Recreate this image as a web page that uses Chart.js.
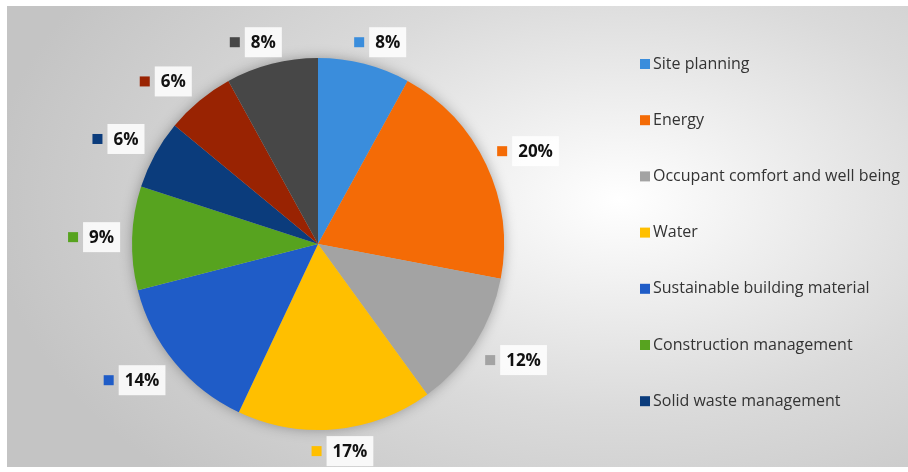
<!DOCTYPE html>
<html><head><meta charset="utf-8">
<script src="https://cdn.jsdelivr.net/npm/chart.js@4/dist/chart.umd.min.js"></script>
<style>
html,body{margin:0;padding:0;background:#fff;}
#wrap{position:absolute;left:7px;top:6px;width:901px;height:461px;
background:radial-gradient(ellipse 70% 85% at 68% 42%, #ffffff 0%, #f3f3f3 18%, #dadada 55%, #c4c4c4 100%);}
#c{position:absolute;left:0;top:0;}
</style></head>
<body>
<div id="wrap"></div>
<canvas id="c" width="908" height="472"></canvas>
<script>
const categories = ["Site planning","Energy","Occupant comfort and well being","Water","Sustainable building material","Construction management","Solid waste management","Innovation","Other"];
const shares = [8,20,12,17,14,9,6,6,8];
const colors = ["#3a8ddc","#f46b06","#a3a3a3","#ffbf00","#1f5cc7","#57a31f","#0b3c7c","#992302","#474747"];
const legendShown = 7;

const shadowPlugin = {
  id:'pieShadow',
  beforeDatasetsDraw(chart){
    const a = chart.getDatasetMeta(0).data[0]; if(!a) return;
    const ctx = chart.ctx; ctx.save();
    ctx.shadowColor='rgba(0,0,0,0.35)'; ctx.shadowBlur=14;
    ctx.fillStyle='#bbbbbb';
    ctx.beginPath(); ctx.arc(a.x,a.y,a.outerRadius-1,0,Math.PI*2); ctx.fill();
    ctx.restore();
  }
};

const labelPlugin = {
  id:'pctLabels',
  afterDatasetsDraw(chart){
    const ctx = chart.ctx; const meta = chart.getDatasetMeta(0);
    const ds = chart.data.datasets[0];
    ctx.save();
    ctx.font = 'bold 17px "Open Sans", sans-serif';
    ctx.textBaseline='middle'; ctx.textAlign='left';
    const f = v => Math.max(-1, Math.min(1, 2*v));
    meta.data.forEach((arc,i)=>{
      const mid = (arc.startAngle+arc.endAngle)/2;
      const r = arc.outerRadius + 12;
      const txt = ds.data[i] + '%';
      const tw = ctx.measureText(txt).width;
      const sq = 10, gap = 5, padX = 6;
      const boxW = tw + 2*padX, boxH = 30;
      const gw = sq + gap + boxW;
      const hw = gw/2, hh = 10;
      const cx = arc.x + r*Math.cos(mid) + hw*f(Math.cos(mid));
      const cy = arc.y + r*Math.sin(mid) + hh*f(Math.sin(mid));
      const left = cx - hw;
      ctx.fillStyle = ds.backgroundColor[i];
      ctx.fillRect(left, cy - sq/2, sq, sq);
      ctx.fillStyle = 'rgba(255,255,255,0.85)';
      ctx.fillRect(left + sq + gap, cy - boxH/2, boxW, boxH);
      ctx.fillStyle = '#111';
      ctx.fillText(txt, left + sq + gap + padX, cy + 1);
    });
    ctx.restore();
  }
};

const legendPlugin = {
  id:'sideLegend',
  afterDraw(chart){
    const ctx = chart.ctx; const ds = chart.data.datasets[0];
    ctx.save();
    ctx.font = '16px "Open Sans", sans-serif';
    ctx.textBaseline='middle'; ctx.textAlign='left';
    const x0 = 640, y0 = 64, step = 56.2;
    chart.data.labels.slice(0, legendShown).forEach((lab,i)=>{
      const y = y0 + i*step;
      ctx.fillStyle = ds.backgroundColor[i];
      ctx.fillRect(x0, y-5, 10, 10);
      ctx.fillStyle = '#333333';
      ctx.fillText(lab, x0 + 13, y);
    });
    ctx.restore();
  }
};

new Chart(document.getElementById('c'), {
  type:'pie',
  data:{ labels: categories, datasets:[{ data: shares, backgroundColor: colors, borderWidth:0 }] },
  options:{
    responsive:false, animation:false,
    layout:{ padding:{ left:132, right:404, top:58, bottom:42 } },
    plugins:{ legend:{display:false}, tooltip:{enabled:false} }
  },
  plugins:[shadowPlugin, labelPlugin, legendPlugin]
});
</script>
</body></html>
